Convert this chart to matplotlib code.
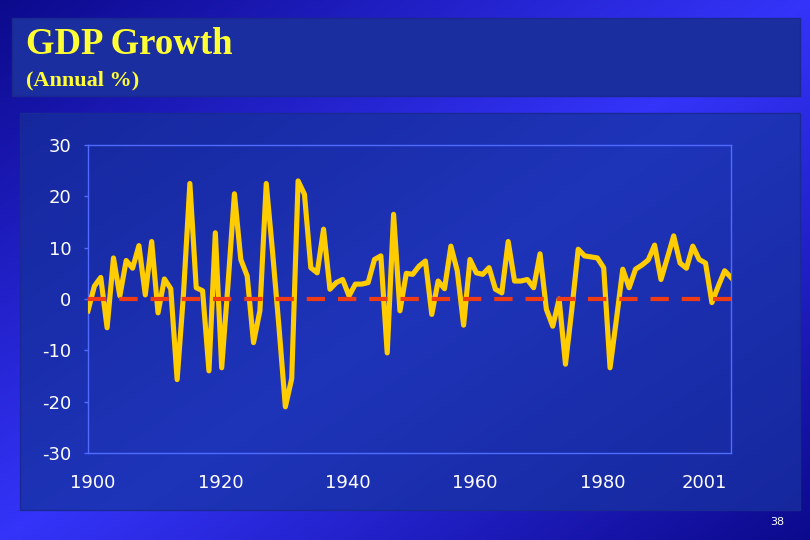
import numpy as np
import matplotlib
matplotlib.use("Agg")
import matplotlib.pyplot as plt
from matplotlib.patches import Rectangle

plt.rcParams['axes.unicode_minus'] = False

# ---------------- data ----------------
years = list(range(1900, 2002))
growth = [
    -2.3, 2.5, 4.2, -5.6, 8.0, 0.6, 7.5, 6.0, 10.4, 0.8,      # 1900-1909
    11.2, -2.7, 3.9, 2.0, -15.7, 1.0, 22.5, 2.2, 1.6, -14.0,  # 1910-1919
    12.9, -13.4, 3.0, 20.5, 7.7, 4.5, -8.5, -2.3, 22.5, 9.0,  # 1920-1929
    -5.5, -21.0, -15.5, 23.0, 20.4, 6.1, 5.1, 13.6, 1.9, 3.2, # 1930-1939
    3.8, 0.6, 2.9, 2.9, 3.2, 7.7, 8.4, -10.5, 16.5, -2.3,     # 1940-1949
    5.0, 4.8, 6.4, 7.4, -3.0, 3.5, 2.0, 10.3, 5.5, -5.1,      # 1950-1959
    7.7, 5.1, 4.8, 6.1, 1.9, 1.2, 11.2, 3.5, 3.5, 3.8,        # 1960-1969
    2.2, 8.8, -2.0, -5.3, 0.0, -12.7, -2.0, 9.7, 8.4, 8.2,    # 1970-1979
    8.0, 6.1, -13.4, -4.0, 5.8, 2.2, 5.8, 6.6, 7.6, 10.5,     # 1980-1989
    3.8, 8.0, 12.3, 7.0, 6.0, 10.3, 7.7, 7.0, -0.7, 2.5,      # 1990-1999
    5.5, 4.2,                                                 # 2000-2001
]
zero_line = [0] * len(years)
x_tick_years = [1900, 1920, 1940, 1960, 1980, 1996]
x_tick_labels = ["1900", "1920", "1940", "1960", "1980", "2001"]
y_ticks = [-30, -20, -10, 0, 10, 20, 30]
y_tick_labels = ["-30", "-20", "-10", "0", "10", "20", "30"]
title = "GDP Growth"
subtitle = "(Annual %)"
page_no = "38"

# ---------------- figure ----------------
W, H = 810, 540
fig = plt.figure(figsize=(W / 100, H / 100), dpi=100)

# background gradient
bg = fig.add_axes([0, 0, 1, 1])
bg.set_xlim(0, W)
bg.set_ylim(H, 0)
bg.axis('off')
xx, yy = np.meshgrid(np.linspace(0, 1, 300), np.linspace(0, 1, 200))
s = xx + yy
b = 1 - np.abs(s - 1)
dark = np.array([12, 10, 140]) / 255
bright = np.array([52, 52, 250]) / 255
img = dark[None, None, :] + (bright - dark)[None, None, :] * b[:, :, None]
bg.imshow(img, extent=(0, W, H, 0), aspect='auto', zorder=0)

# title box
bg.add_patch(Rectangle((12, 18), 788, 78, facecolor='#1b2ea0', edgecolor='#1a2890',
                       linewidth=1, zorder=1))
# panel box with gentle gradient
pxx, pyy = np.meshgrid(np.linspace(0, 1, 200), np.linspace(0, 1, 200))
pb = np.clip(1 - np.abs((pxx * 0.8 + pyy * 0.6) - 0.7) / 0.9, 0, 1)
pd = np.array([20, 36, 150]) / 255
pl = np.array([30, 52, 185]) / 255
pimg = pd[None, None, :] + (pl - pd)[None, None, :] * pb[:, :, None]
bg.imshow(pimg, extent=(20, 800, 510, 113), aspect='auto', zorder=1)
bg.add_patch(Rectangle((20, 113), 780, 397, facecolor='none', edgecolor='#1a2a95',
                       linewidth=1, zorder=2))

bg.text(26, 44, title, color='#ffff33', fontsize=26.5, fontweight='bold',
        family='Liberation Serif', va='center', ha='left', zorder=3)
bg.text(26, 80, subtitle, color='#ffff33', fontsize=16, fontweight='bold',
        family='Liberation Serif', va='center', ha='left', zorder=3)
bg.text(777, 522, page_no, color='white', fontsize=8, va='center', ha='center',
        zorder=3)

# main axes
ax = fig.add_axes([88 / W, 1 - 453 / H, (731 - 88) / W, (453 - 145) / H])
ax.set_facecolor('none')
ax.plot(years, growth, color='#ffcc00', linewidth=3.7, solid_joinstyle='round',
        zorder=3)
ax.plot(years, zero_line, color='#f03c14', linewidth=3.0, dashes=(4.4, 3.1),
        dash_capstyle='butt', zorder=4)

ax.set_xlim(years[0], years[-1])
ax.set_ylim(-30, 30)
ax.set_yticks(y_ticks)
ax.set_yticklabels(y_tick_labels)
ax.set_xticks([y + 0.8 for y in x_tick_years])
ax.set_xticklabels(x_tick_labels)

for sp in ax.spines.values():
    sp.set_color('#4f6cff')
    sp.set_linewidth(1.0)
ax.tick_params(axis='y', colors='#4f6cff', length=3, width=1, pad=9,
               labelcolor='white', labelsize=13)
ax.tick_params(axis='x', length=0, pad=15, labelcolor='white', labelsize=13)

fig.savefig('out.png', dpi=100)
